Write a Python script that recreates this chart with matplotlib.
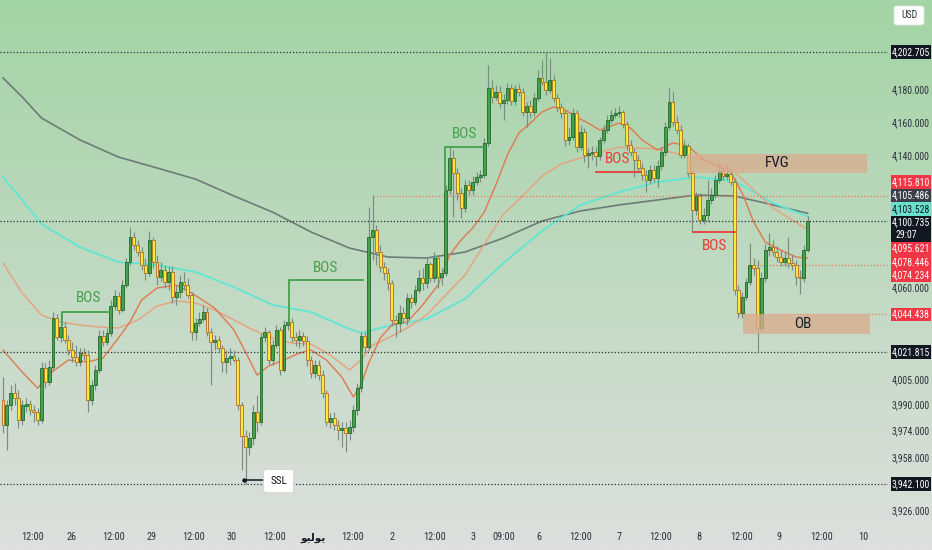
import numpy as np
import matplotlib
matplotlib.use("Agg")
import matplotlib.pyplot as plt
from matplotlib import transforms
from matplotlib import font_manager as fm
from matplotlib.patches import Rectangle, FancyBboxPatch

# ---------------- data (XAU/USD, hourly candles) ----------------
open_ = [
 3992.9, 3977.8, 3989.8, 3997.1, 3994.1, 3980.8, 3989.2, 3990.4, 3986.8, 3985.6,
 3980.8, 4012.2, 4003.7, 4012.8, 4042.3, 4030.9, 4036.9, 4029.0, 4023.0, 4018.8,
 4015.8, 4021.2, 4020.0, 3992.9, 4001.9, 4011.0, 4031.5, 4027.8, 4033.3, 4049.5,
 4055.6, 4047.1, 4062.2, 4076.1, 4091.2, 4086.3, 4082.1, 4074.3, 4069.5, 4089.4,
 4076.1, 4067.0, 4071.3, 4064.0, 4070.0, 4054.8, 4058.0, 4064.0, 4062.2, 4056.2,
 4033.9, 4039.3, 4041.7, 4045.9, 4033.9, 4027.8, 4029.0, 4024.2, 4015.8, 4018.2,
 4019.4, 4017.0, 3989.8, 3971.2, 3964.5, 3969.9, 3985.6, 3979.6, 4030.9, 4033.9,
 4017.0, 4026.0, 4035.1, 4011.0, 4038.1, 4039.9, 4030.9, 4029.0, 4031.5, 4028.4,
 4017.0, 4009.1, 4013.9, 4007.9, 3997.1, 3979.6, 3982.0, 3977.8, 3974.8, 3976.0,
 3973.0, 3976.6, 3986.8, 4000.1, 4031.5, 4024.8, 4091.2, 4095.4, 4082.1, 4073.1,
 4069.5, 4063.4, 4041.1, 4039.3, 4045.3, 4042.3, 4054.4, 4052.0, 4059.2, 4066.4,
 4063.4, 4074.9, 4066.4, 4078.5, 4067.0, 4069.5, 4119.5, 4138.8, 4129.8, 4117.7,
 4108.7, 4122.5, 4119.5, 4124.3, 4127.3, 4128.6, 4147.9, 4181.0, 4175.6, 4178.6,
 4172.0, 4173.8, 4181.0, 4173.2, 4180.4, 4178.6, 4166.6, 4170.2, 4166.6, 4175.0,
 4187.1, 4184.6, 4179.8, 4185.8, 4175.0, 4169.6, 4165.9, 4149.7, 4151.5, 4165.9,
 4145.4, 4154.5, 4140.6, 4141.8, 4142.4, 4140.0, 4149.7, 4155.7, 4161.7, 4164.7,
 4165.9, 4166.6, 4159.3, 4146.7, 4142.4, 4137.6, 4132.8, 4128.6, 4125.5, 4131.6,
 4126.7, 4134.0, 4142.4, 4157.5, 4172.6, 4160.5, 4155.7, 4140.6, 4146.0, 4129.8,
 4107.4, 4115.9, 4101.4, 4104.4, 4113.5, 4116.5, 4125.5, 4131.0, 4128.0, 4129.2,
 4124.3, 4059.2, 4045.3, 4055.0, 4064.0, 4074.3, 4072.5, 4036.3, 4066.4, 4083.3,
 4085.1, 4082.1, 4079.1, 4076.1, 4078.5, 4075.5, 4074.3, 4067.0, 4066.4, 4083.3]
high = [
 4006.7, 3992.9, 4001.9, 4003.1, 3998.9, 3992.9, 3994.1, 3992.9, 3989.8, 3988.0,
 4015.8, 4015.2, 4017.0, 4045.9, 4044.7, 4045.9, 4039.9, 4032.0, 4027.8, 4026.0,
 4024.2, 4024.2, 4023.0, 4004.9, 4014.0, 4035.1, 4035.1, 4036.3, 4053.2, 4059.2,
 4058.0, 4065.2, 4078.5, 4097.2, 4094.2, 4089.4, 4085.1, 4078.5, 4094.8, 4091.2,
 4080.3, 4076.1, 4074.3, 4073.7, 4073.7, 4062.2, 4068.2, 4070.0, 4066.4, 4058.0,
 4042.3, 4045.9, 4050.2, 4048.3, 4036.3, 4032.0, 4031.5, 4026.0, 4023.0, 4024.2,
 4023.0, 4018.8, 3991.7, 3974.8, 3973.6, 3989.8, 3995.9, 4033.3, 4036.9, 4035.1,
 4029.0, 4038.1, 4036.9, 4041.1, 4042.3, 4042.3, 4033.9, 4035.1, 4033.9, 4031.5,
 4019.4, 4017.0, 4017.0, 4011.0, 3998.9, 3985.0, 3985.6, 3980.8, 3979.6, 3979.6,
 3980.8, 3989.8, 4003.1, 4033.9, 4033.9, 4109.3, 4116.5, 4098.4, 4086.3, 4076.1,
 4072.5, 4065.2, 4044.1, 4050.2, 4048.9, 4057.4, 4056.8, 4062.2, 4071.3, 4072.5,
 4078.5, 4076.1, 4082.1, 4080.3, 4072.5, 4122.5, 4145.4, 4143.6, 4132.8, 4120.7,
 4125.5, 4125.5, 4127.9, 4130.4, 4131.6, 4150.9, 4194.9, 4185.8, 4182.8, 4182.2,
 4177.4, 4184.0, 4183.4, 4182.8, 4183.4, 4181.0, 4172.6, 4173.8, 4178.0, 4191.9,
 4197.9, 4202.705, 4199.1, 4188.9, 4177.4, 4172.0, 4167.8, 4156.9, 4169.0, 4167.8,
 4158.7, 4156.9, 4144.8, 4146.0, 4145.4, 4151.5, 4158.7, 4164.7, 4167.8, 4169.0,
 4170.2, 4167.8, 4161.1, 4149.7, 4144.8, 4140.6, 4135.8, 4131.6, 4134.6, 4134.6,
 4137.6, 4145.4, 4160.5, 4181.0, 4178.6, 4164.1, 4158.7, 4149.7, 4147.9, 4131.6,
 4118.3, 4117.7, 4108.7, 4125.5, 4120.7, 4128.6, 4135.8, 4133.4, 4135.8, 4131.6,
 4126.7, 4062.2, 4058.0, 4066.4, 4087.5, 4078.5, 4077.3, 4070.1, 4086.9, 4093.6,
 4089.4, 4085.7, 4083.3, 4082.1, 4091.2, 4080.3, 4077.3, 4071.3, 4086.3, 4103.8]
low = [
 3973.0, 3962.7, 3986.8, 3989.8, 3976.0, 3977.8, 3985.6, 3983.8, 3979.6, 3977.8,
 3979.0, 4000.1, 4001.9, 4011.0, 4029.0, 4027.8, 4027.2, 4020.0, 4015.8, 4013.4,
 4013.4, 4017.0, 3985.6, 3989.8, 3998.9, 4009.1, 4025.4, 4026.0, 4031.5, 4047.1,
 4044.7, 4045.9, 4060.4, 4074.3, 4083.3, 4079.7, 4071.3, 4065.2, 4067.6, 4072.5,
 4062.2, 4064.6, 4060.4, 4059.2, 4051.4, 4050.2, 4054.4, 4059.2, 4054.4, 4029.0,
 4029.0, 4037.5, 4039.9, 4031.5, 4001.9, 4023.0, 4021.8, 4009.7, 4009.1, 4014.0,
 4015.8, 3986.8, 3950.6, 3942.1, 3959.7, 3965.7, 3973.6, 3977.8, 4027.8, 4014.6,
 4014.0, 4024.2, 4007.9, 4009.7, 4035.1, 4027.8, 4025.4, 4024.2, 4025.4, 4013.4,
 4006.1, 4006.1, 4004.9, 3994.1, 3977.2, 3976.0, 3974.8, 3968.7, 3964.5, 3961.5,
 3968.7, 3973.6, 3983.8, 3997.7, 4021.8, 4023.0, 4077.3, 4074.3, 4070.1, 4065.2,
 4059.2, 4037.5, 4030.9, 4033.9, 4039.9, 4038.1, 4048.3, 4050.2, 4057.4, 4059.2,
 4060.4, 4064.0, 4064.0, 4060.4, 4062.2, 4067.6, 4116.5, 4103.2, 4113.5, 4102.6,
 4106.2, 4116.5, 4116.5, 4122.5, 4124.3, 4126.7, 4146.0, 4172.0, 4173.8, 4168.9,
 4161.7, 4171.4, 4170.8, 4170.8, 4176.2, 4164.1, 4157.5, 4162.9, 4164.1, 4173.2,
 4182.8, 4176.8, 4178.0, 4172.6, 4166.6, 4162.9, 4146.0, 4146.7, 4149.7, 4142.4,
 4143.6, 4136.4, 4132.8, 4137.6, 4134.0, 4137.6, 4147.9, 4153.9, 4159.9, 4162.9,
 4163.5, 4156.9, 4143.6, 4140.0, 4127.3, 4129.8, 4125.5, 4118.3, 4123.1, 4124.3,
 4121.3, 4131.6, 4140.0, 4155.7, 4158.1, 4153.3, 4138.8, 4138.8, 4127.3, 4094.2,
 4104.4, 4099.0, 4099.0, 4100.2, 4111.1, 4114.7, 4123.7, 4125.5, 4125.5, 4122.5,
 4056.2, 4042.3, 4042.3, 4053.2, 4062.2, 4068.2, 4021.815, 4033.9, 4064.0, 4079.7,
 4079.7, 4076.1, 4073.7, 4073.7, 4072.5, 4071.3, 4062.2, 4056.8, 4064.0, 4082.1]
close = [
 3977.8, 3989.8, 3997.1, 3994.1, 3980.8, 3989.8, 3990.4, 3986.8, 3985.6, 3980.8,
 4012.2, 4003.7, 4012.8, 4042.3, 4030.9, 4036.9, 4029.0, 4023.0, 4018.8, 4015.8,
 4021.2, 4020.0, 3992.9, 4001.9, 4011.0, 4031.5, 4027.8, 4033.3, 4049.5, 4055.6,
 4047.1, 4062.2, 4076.1, 4091.2, 4086.3, 4082.1, 4074.3, 4069.5, 4089.4, 4076.1,
 4067.0, 4071.3, 4064.0, 4070.0, 4054.8, 4058.0, 4064.0, 4062.2, 4056.2, 4033.9,
 4039.3, 4041.7, 4045.9, 4033.9, 4027.8, 4029.0, 4024.2, 4015.8, 4018.2, 4019.4,
 4017.0, 3989.8, 3971.2, 3964.5, 3969.9, 3985.6, 3979.6, 4030.9, 4033.9, 4017.0,
 4026.0, 4035.1, 4011.0, 4038.1, 4039.9, 4030.9, 4029.0, 4031.5, 4028.4, 4017.0,
 4009.1, 4013.9, 4007.9, 3997.1, 3979.6, 3982.0, 3977.8, 3974.8, 3976.0, 3973.0,
 3976.6, 3986.8, 4000.1, 4031.5, 4024.8, 4091.2, 4095.4, 4082.1, 4073.1, 4069.5,
 4063.4, 4041.1, 4039.3, 4045.3, 4042.3, 4054.4, 4052.0, 4059.2, 4066.4, 4063.4,
 4074.9, 4066.4, 4078.5, 4067.0, 4069.5, 4119.5, 4138.8, 4129.8, 4117.7, 4108.7,
 4122.5, 4119.5, 4124.3, 4127.3, 4128.6, 4147.9, 4181.0, 4175.6, 4178.6, 4172.0,
 4173.8, 4181.0, 4173.2, 4180.4, 4178.6, 4166.6, 4170.2, 4166.6, 4175.0, 4187.1,
 4184.6, 4179.8, 4185.8, 4175.0, 4169.6, 4165.9, 4149.7, 4151.5, 4165.9, 4145.4,
 4154.5, 4140.6, 4141.8, 4142.4, 4140.0, 4149.7, 4155.7, 4161.7, 4164.7, 4165.9,
 4166.6, 4159.3, 4146.7, 4142.4, 4137.6, 4132.8, 4128.6, 4125.5, 4131.6, 4126.7,
 4134.0, 4142.4, 4157.5, 4172.6, 4160.5, 4155.7, 4140.6, 4146.0, 4129.8, 4107.4,
 4115.9, 4101.4, 4104.4, 4113.5, 4116.5, 4125.5, 4131.0, 4128.0, 4129.2, 4124.3,
 4059.2, 4045.3, 4055.0, 4064.0, 4074.3, 4072.5, 4036.3, 4066.4, 4083.3, 4085.1,
 4082.1, 4079.1, 4076.1, 4078.5, 4075.5, 4074.3, 4067.0, 4066.4, 4083.3, 4100.735]

# moving averages (candle index, price)
ma_gray_idx = [0, 5, 10, 20, 30, 40, 50, 60, 70, 80, 90, 100, 110, 120, 130, 140, 150, 160, 170, 180, 190, 200, 209]
ma_gray_val = [4187.1, 4175.6, 4162.9, 4149.7, 4139.4, 4132.8, 4126.1, 4115.9, 4106.2, 4094.2, 4084.5, 4079.1,
               4078.5, 4082.1, 4090.6, 4100.8, 4106.9, 4110.5, 4113.5, 4116.5, 4115.9, 4110.5, 4105.486]
ma_cyan_idx = [0, 5, 10, 20, 30, 40, 50, 60, 70, 80, 90, 93, 100, 110, 120, 130, 140, 150, 160, 170, 180, 190, 195, 200, 209]
ma_cyan_val = [4127.3, 4113.5, 4099.0, 4085.1, 4076.1, 4074.3, 4070.1, 4061.0, 4050.2, 4045.9, 4035.7, 4033.3, 4037.5,
               4041.7, 4053.8, 4075.5, 4094.8, 4110.5, 4118.3, 4124.3, 4127.3, 4124.9, 4118.3, 4111.7, 4103.528]
ema_fast_idx = [0, 5, 9, 13, 17, 22, 26, 30, 33, 36, 40, 45, 49, 55, 60, 63, 66, 69, 73, 77, 80, 84, 88, 91, 93, 95,
                98, 101, 105, 109, 113, 116, 119, 122, 125, 128, 131, 134, 137, 140, 143, 146, 149, 152, 155, 158,
                160, 163, 166, 170, 174, 178, 182, 186, 189, 192, 195, 198, 202, 206, 209]
ema_fast_val = [4023.0, 4009.7, 4000.1, 4010.3, 4017.0, 4015.8, 4018.2, 4030.3, 4039.9, 4053.2, 4060.4, 4062.2, 4057.4,
                4048.3, 4035.1, 4021.8, 4007.9, 4013.4, 4017.0, 4021.2, 4023.0, 4017.0, 4006.7, 3994.7, 4001.9, 4015.2,
                4030.3, 4038.1, 4039.9, 4050.2, 4062.2, 4080.3, 4089.4, 4096.6, 4106.2, 4122.5, 4140.6, 4153.9, 4159.9,
                4166.6, 4169.6, 4167.8, 4163.5, 4159.9, 4155.7, 4158.1, 4159.9, 4156.9, 4149.7, 4143.6, 4147.9, 4146.0,
                4137.6, 4133.4, 4130.4, 4117.7, 4100.2, 4088.1, 4083.3, 4079.1, 4078.446]
ema_slow_idx = [0, 5, 10, 15, 20, 25, 30, 35, 40, 45, 50, 55, 60, 65, 70, 75, 80, 85, 90, 93, 96, 100, 105, 110, 115,
                120, 125, 130, 135, 140, 145, 150, 160, 170, 180, 186, 190, 195, 200, 205, 209]
ema_slow_val = [4075.5, 4057.4, 4044.1, 4039.9, 4038.1, 4036.9, 4036.3, 4041.1, 4049.5, 4052.6, 4051.4, 4047.1, 4041.1,
                4035.1, 4030.3, 4027.2, 4026.6, 4020.0, 4011.0, 4017.0, 4026.0, 4030.3, 4036.3, 4044.1, 4056.2, 4068.2,
                4086.9, 4105.0, 4115.9, 4127.9, 4135.2, 4138.8, 4145.4, 4144.2, 4138.8, 4134.6, 4130.4, 4119.5, 4108.7,
                4101.4, 4095.621]

# horizontal price levels
black_levels = [4202.705, 4100.735, 4021.815, 3942.100]
orange_levels = [4115.810, 4074.234, 4044.438]
orange_level_start = [96, 194, 191]

# zones (candle index range, price range)
fvg_zone = (177.7, 224.3, 4129.9, 4141.2)
ob_zone = (192.1, 225.2, 4032.7, 4044.438)

# BOS drawings (polyline in candle index / price, label anchor)
bos_green = [([15.3, 15.3, 27.8], [4038.1, 4045.9, 4045.9], (22.1, 4054.4)),
             ([74.3, 74.3, 93.5], [4039.3, 4065.2, 4065.2], (83.9, 4072.5)),
             ([114.8, 114.8, 124.7], [4118.3, 4145.4, 4145.4], (120.0, 4153.3))]
bos_red = [([154.0, 165.7], [4130.4, 4130.4], (159.5, 4138.2)),
           ([179.2, 190.1], [4094.2, 4094.2], (184.7, 4085.7))]
ssl_line = ([62.5, 68.6], [3944.5, 3944.5])
ssl_label_pos = (71.6, 3944.0)

# axis labels
price_ticks = [4180, 4160, 4140, 4060, 4005, 3990, 3974, 3958, 3926]
time_tick_pos = [7.8, 17.9, 28.6, 38.7, 49.4, 59.5, 70.4, 80.5, 90.9, 101.0, 112.0,
                 122.1, 130.1, 139.2, 150.1, 160.0, 170.9, 180.8, 191.7, 201.6, 212.5, 223.4]
# "يوليو" written with Arabic presentation forms so it renders joined, right-to-left
ARABIC_JULY = '\uFEEE\uFEF4\uFEDF\uFEEE\uFEF3'
time_tick_lab = ['12:00', '26', '12:00', '29', '12:00', '30', '12:00', ARABIC_JULY, '12:00', '2', '12:00',
                 '3', '09:00', '6', '12:00', '7', '12:00', '8', '12:00', '9', '12:00', '10']

label_vals = [4202.705, 4115.810, 4105.486, 4103.528, 4100.735, 4095.621, 4078.446, 4074.234, 4044.438, 4021.815, 3942.100]
label_bg = ['#131722', '#f23645', '#3b3f4a', '#6be0cb', '#131722', '#f23645', '#f23645', '#f23645', '#f23645', '#131722', '#131722']
label_fg = ['white', 'white', 'white', '#131722', 'white', 'white', 'white', 'white', 'white', 'white', 'white']
label_sub = [None, None, None, None, '29:07', None, None, None, None, None, None]

# ---------------- fonts ----------------
names = {f.name for f in fm.fontManager.ttflist}
NF, K = None, 1.0
for cand in ('Liberation Sans Narrow', 'Roboto Condensed', 'Open Sans Condensed', 'DejaVu Sans Condensed'):
    if cand in names:
        NF = dict(family=cand); K = 1.0
        break
if NF is None:
    if 'Liberation Sans' in names:
        NF = dict(family='Liberation Sans'); K = 0.86
    else:
        NF = dict(family='DejaVu Sans'); K = 0.78

# ---------------- figure ----------------
W, H = 932, 550
fig = plt.figure(figsize=(W / 100, H / 100), dpi=100)

bg = fig.add_axes([0, 0, 1, 1], zorder=0)
g = np.linspace(0, 1, 300)[:, None, None]
top = np.array([163, 212, 165]) / 255.0
bot = np.array([222, 223, 222]) / 255.0
img = top[None, None, :] * (1 - g) + bot[None, None, :] * g
img = np.repeat(img, 2, axis=1)
bg.imshow(img, aspect='auto', extent=[0, 1, 0, 1], origin='upper', interpolation='bilinear')
bg.set_axis_off()

PLOT_W, PLOT_H = 888, 522
ax = fig.add_axes([0, 1 - PLOT_H / H, PLOT_W / W, PLOT_H / H], zorder=1)
ax.patch.set_alpha(0)
ax.set_xlim(-3 / 3.85, (PLOT_W - 3) / 3.85)
ax.set_ylim(3919.3, 4234.1)
ax.set_axis_off()

o = np.array(open_); h = np.array(high); l = np.array(low); c = np.array(close)
x = np.arange(len(c))
up = c >= o

# moving averages
ax.plot(ma_gray_idx, ma_gray_val, color='#6e7b76', lw=1.2, zorder=2)
ax.plot(ma_cyan_idx, ma_cyan_val, color='#5fe6d3', lw=1.3, zorder=2)
ax.plot(ema_slow_idx, ema_slow_val, color='#e9a07c', lw=1.0, zorder=2)
ax.plot(ema_fast_idx, ema_fast_val, color='#e0784f', lw=1.0, zorder=2)

# level lines
for v in black_levels:
    ax.axhline(v, color='#2a2e39', lw=0.9, ls=(0, (1, 1.6)), zorder=2.5)
xr = ax.get_xlim()[1]
for v, s in zip(orange_levels, orange_level_start):
    ax.plot([s, xr], [v, v], color='#e8795a', lw=0.9, ls=(0, (1, 1.6)), zorder=2.5)

# candles
ax.vlines(x, l, h, color='#7a8c82', lw=0.85, zorder=3)
bw = 0.74
body = c - o
ax.bar(x[up], body[up], bottom=o[up], width=bw, color='#45a14b', edgecolor='#1f6a2a', linewidth=0.6, zorder=4)
ax.bar(x[~up], body[~up], bottom=o[~up], width=bw, color='#fde93a', edgecolor='#b06b24', linewidth=0.6, zorder=4)

# zones
for (x0, x1, y0, y1) in (fvg_zone, ob_zone):
    ax.add_patch(Rectangle((x0, y0), x1 - x0, y1 - y0, facecolor=(0.85, 0.68, 0.56), edgecolor='none',
                           alpha=0.78, zorder=5))
ax.text(201.0, (fvg_zone[2] + fvg_zone[3]) / 2, 'FVG', ha='center', va='center',
        fontsize=11 * K, color='#151a28', zorder=6, **NF)
ax.text(207.8, (ob_zone[2] + ob_zone[3]) / 2, 'OB', ha='center', va='center',
        fontsize=11 * K, color='#151a28', zorder=6, **NF)

# BOS drawings
for xs, ys, (tx, ty) in bos_green:
    ax.plot(xs, ys, color='#45a14b', lw=1.3, zorder=5.5)
    ax.text(tx, ty, 'BOS', ha='center', va='center', fontsize=11 * K, color='#45a14b', zorder=6, **NF)
for xs, ys, (tx, ty) in bos_red:
    ax.plot(xs, ys, color='#eb3a3a', lw=1.3, zorder=5.5)
    ax.text(tx, ty, 'BOS', ha='center', va='center', fontsize=11 * K, color='#eb3a3a', zorder=6, **NF)

# SSL
ax.plot(ssl_line[0], ssl_line[1], color='#131722', lw=1.1, zorder=5.5)
ax.plot([ssl_line[0][0]], [ssl_line[1][0]], 'o', ms=2.2, color='#131722', zorder=5.6)
ax.text(ssl_label_pos[0], ssl_label_pos[1], 'SSL', ha='center', va='center', fontsize=8 * K, color='#131722',
        zorder=6, bbox=dict(boxstyle='round,pad=0.6,rounding_size=0.25', fc='white', ec='#cfd4d2', lw=0.6), **NF)

# ---------------- price axis ----------------
def to_px(v):
    return ax.transData.transform((0, v))[1]

PF = 7.0 * K
for v in price_ticks:
    fig.text(911 / W, to_px(v) / H, f'{v:,.3f}', ha='center', va='center', fontsize=PF,
             color='#2b2f3a', zorder=5, **NF)

cen = [to_px(v) for v in label_vals]
hts = [26 if s else 13.5 for s in label_sub]
order = sorted(range(len(cen)), key=lambda j: -cen[j])
pos = [cen[j] for j in order]
hh = [hts[j] for j in order]
for _ in range(500):
    moved = False
    for a in range(len(pos) - 1):
        need = (hh[a] + hh[a + 1]) / 2
        gap = pos[a] - pos[a + 1]
        if gap < need - 1e-6:
            d = (need - gap) / 2
            pos[a] += d; pos[a + 1] -= d; moved = True
    if not moved:
        break
for k, j in enumerate(order):
    p = pos[k]; hgt = hh[k]
    fig.add_artist(Rectangle((890.5 / W, (p - hgt / 2) / H), 40.5 / W, hgt / H, transform=fig.transFigure,
                             facecolor=label_bg[j], edgecolor='none', zorder=10))
    if label_sub[j]:
        fig.text(911 / W, (p + 6) / H, f'{label_vals[j]:,.3f}', ha='center', va='center', fontsize=PF,
                 color=label_fg[j], zorder=11, **NF)
        fig.text(895 / W, (p - 6) / H, label_sub[j], ha='left', va='center', fontsize=PF,
                 color=label_fg[j], zorder=11, **NF)
    else:
        fig.text(911 / W, p / H, f'{label_vals[j]:,.3f}', ha='center', va='center', fontsize=PF,
                 color=label_fg[j], zorder=11, **NF)

# USD box
fig.add_artist(FancyBboxPatch((894 / W, 1 - 25 / H), 30 / W, 19 / H, boxstyle='round,pad=0,rounding_size=0.004',
                              transform=fig.transFigure, facecolor='white', edgecolor='#e2e5e3', lw=0.6, zorder=10))
fig.text(909 / W, 1 - 15.5 / H, 'USD', ha='center', va='center', fontsize=PF, color='#2b2f3a', zorder=11, **NF)

# ---------------- time axis ----------------
tr = transforms.blended_transform_factory(ax.transData, fig.transFigure)
for tp, tl in zip(time_tick_pos, time_tick_lab):
    if tl == ARABIC_JULY:
        ax.text(tp, 1 - 538 / H, tl, transform=tr, ha='center', va='center', fontsize=7.5,
                fontweight='bold', color='#131722', family='DejaVu Sans', clip_on=False)
    else:
        ax.text(tp, 1 - 537 / H, tl, transform=tr, ha='center', va='center', fontsize=7.4 * K,
                color='#2b2f3a', clip_on=False, **NF)

fig.savefig('out.png', dpi=100)
